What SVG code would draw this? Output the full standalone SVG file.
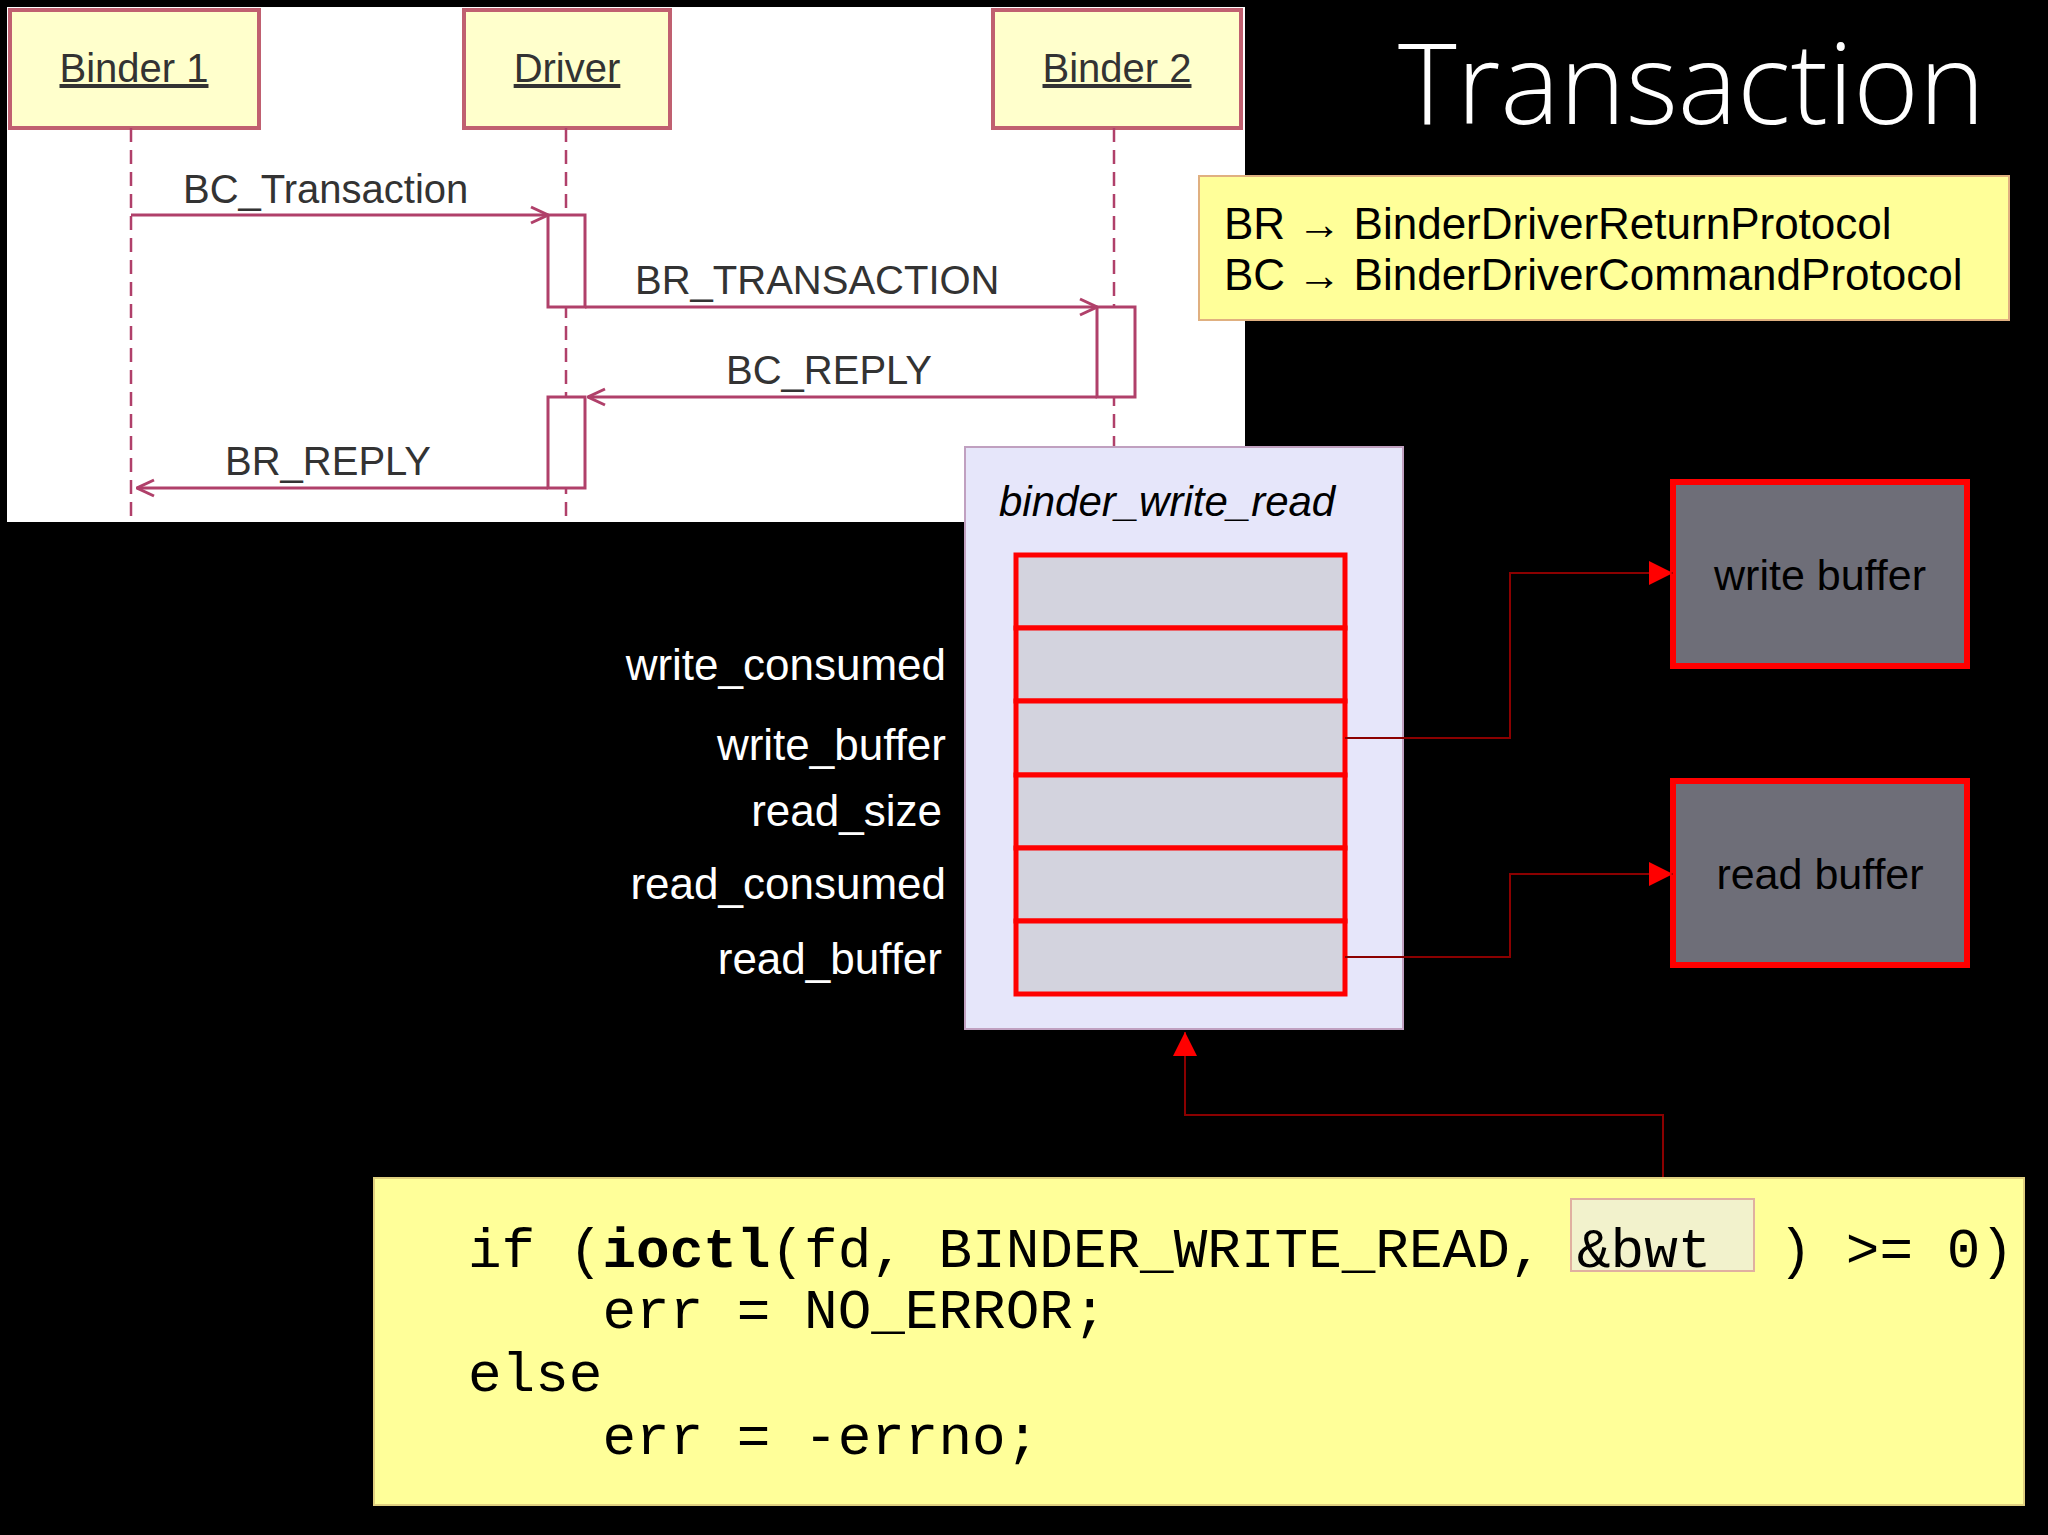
<svg xmlns="http://www.w3.org/2000/svg" width="2048" height="1535" viewBox="0 0 2048 1535">
<defs>
<style>
.seq{font-family:"Liberation Sans",Arial,sans-serif;font-size:40px;fill:#333}
.hdr{font-family:"Liberation Sans",Arial,sans-serif;font-size:40px;fill:#333;text-decoration:underline}
.msg{stroke:#b0406a;stroke-width:3;fill:none}
.life{stroke:#b0406a;stroke-width:2.5;stroke-dasharray:14 8;fill:none}
.act{fill:#fff;stroke:#b0406a;stroke-width:3}
.lab{font-family:"Liberation Sans",Arial,sans-serif;font-size:44px;fill:#fff;text-anchor:end}
.cell{fill:#d3d3de;stroke:#ff0000;stroke-width:5}
.buf{fill:#6e6e78;stroke:#ff0000;stroke-width:6}
.buft{font-family:"Liberation Sans",Arial,sans-serif;font-size:43px;fill:#000;text-anchor:middle}
.con{stroke:#8b0000;stroke-width:2;fill:none}
.code{font-family:"Liberation Mono","Courier New",monospace;font-size:56px;fill:#000}
</style>
<marker id="open" viewBox="0 0 20 20" refX="19" refY="10" markerWidth="20" markerHeight="20" markerUnits="userSpaceOnUse" orient="auto"><path d="M2 2 L19 10 L2 18" fill="none" stroke="#b0406a" stroke-width="3"/></marker>
<marker id="red" viewBox="0 0 10 10" refX="10" refY="5" markerWidth="30" markerHeight="24" markerUnits="userSpaceOnUse" orient="auto"><path d="M0 0 L10 5 L0 10 Z" fill="#ff0000"/></marker>
</defs>
<rect width="2048" height="1535" fill="#000"/>
<g id="sequence">
<rect x="7" y="7" width="1238" height="515" fill="#fff"/>
<g id="binder1"><rect x="10" y="10" width="249" height="118" fill="#ffffcc" stroke="#c06070" stroke-width="4"/><text class="hdr" x="134" y="82" text-anchor="middle">Binder 1</text></g>
<g id="driver"><rect x="464" y="10" width="206" height="118" fill="#ffffcc" stroke="#c06070" stroke-width="4"/><text class="hdr" x="567" y="82" text-anchor="middle">Driver</text></g>
<g id="binder2"><rect x="993" y="10" width="248" height="118" fill="#ffffcc" stroke="#c06070" stroke-width="4"/><text class="hdr" x="1117" y="82" text-anchor="middle">Binder 2</text></g>
<g id="lifelines">
<line class="life" x1="131" y1="128" x2="131" y2="522"/>
<line class="life" x1="566" y1="128" x2="566" y2="522"/>
<line class="life" x1="1114" y1="128" x2="1114" y2="522"/>
</g>
<rect class="act" x="548" y="215" width="37" height="92"/>
<rect class="act" x="1097" y="307" width="38" height="90"/>
<rect class="act" x="548" y="397" width="37" height="91"/>
</g>
<g id="messages">
<line class="msg" x1="131" y1="215" x2="548" y2="215" marker-end="url(#open)"/>
<line class="msg" x1="585" y1="307" x2="1097" y2="307" marker-end="url(#open)"/>
<line class="msg" x1="1097" y1="397" x2="588" y2="397" marker-end="url(#open)"/>
<line class="msg" x1="548" y1="488" x2="137" y2="488" marker-end="url(#open)"/>
<text class="seq" x="183" y="203">BC_Transaction</text>
<text class="seq" x="635" y="294">BR_TRANSACTION</text>
<text class="seq" x="726" y="384">BC_REPLY</text>
<text class="seq" x="225" y="475">BR_REPLY</text>
</g>
<text x="1985" y="124" text-anchor="end" font-family="'Open Sans','DejaVu Sans',sans-serif" font-weight="300" font-size="112" fill="#fff">Transaction</text>
<g id="legend">
<rect x="1199" y="176" width="810" height="144" fill="#ffff99" stroke="#e0b080" stroke-width="2"/>
<text x="1224" y="239" font-family="'Liberation Sans',Arial,sans-serif" font-size="44" fill="#000">BR → BinderDriverReturnProtocol</text>
<text x="1224" y="290" font-family="'Liberation Sans',Arial,sans-serif" font-size="44" fill="#000">BC → BinderDriverCommandProtocol</text>
</g>
<g id="binder_write_read">
<rect x="965" y="447" width="438" height="582" fill="#e6e6fa" stroke="#c0a0c0" stroke-width="2"/>
<text x="999" y="516" font-family="'Liberation Sans',Arial,sans-serif" font-style="italic" font-size="42" fill="#000">binder_write_read</text>
<rect class="cell" x="1016" y="555" width="329" height="73"/>
<rect class="cell" x="1016" y="628" width="329" height="73"/>
<rect class="cell" x="1016" y="701" width="329" height="74"/>
<rect class="cell" x="1016" y="775" width="329" height="73"/>
<rect class="cell" x="1016" y="848" width="329" height="73"/>
<rect class="cell" x="1016" y="921" width="329" height="73"/>
</g>
<g id="labels">
<text class="lab" x="946" y="680">write_consumed</text>
<text class="lab" x="946" y="760">write_buffer</text>
<text class="lab" x="942" y="826">read_size</text>
<text class="lab" x="946" y="899">read_consumed</text>
<text class="lab" x="942" y="974">read_buffer</text>
</g>
<g id="write_buffer"><rect class="buf" x="1673" y="482" width="294" height="184"/><text class="buft" x="1820" y="590">write buffer</text></g>
<g id="read_buffer"><rect class="buf" x="1673" y="781" width="294" height="184"/><text class="buft" x="1820" y="889">read buffer</text></g>
<g id="connectors">
<polyline class="con" points="1345,738 1510,738 1510,573 1673,573" marker-end="url(#red)"/>
<polyline class="con" points="1345,957 1510,957 1510,874 1673,874" marker-end="url(#red)"/>
<polyline class="con" points="1663,1199 1663,1115 1185,1115 1185,1032" marker-end="url(#red)"/>
</g>
<g id="code">
<rect x="374" y="1178" width="1650" height="327" fill="#ffff99" stroke="#e0d080" stroke-width="2"/>
<rect x="1571" y="1199" width="183" height="72" fill="#f2f2cc" stroke="#e0b0a0" stroke-width="2"/>
<text class="code" x="468" y="1267" xml:space="preserve">if (<tspan font-weight="bold">ioctl</tspan>(fd, BINDER_WRITE_READ, &amp;bwt  ) &gt;= 0)</text>
<text class="code" x="468" y="1328" xml:space="preserve">    err = NO_ERROR;</text>
<text class="code" x="468" y="1391">else</text>
<text class="code" x="468" y="1454" xml:space="preserve">    err = -errno;</text>
</g>
</svg>
